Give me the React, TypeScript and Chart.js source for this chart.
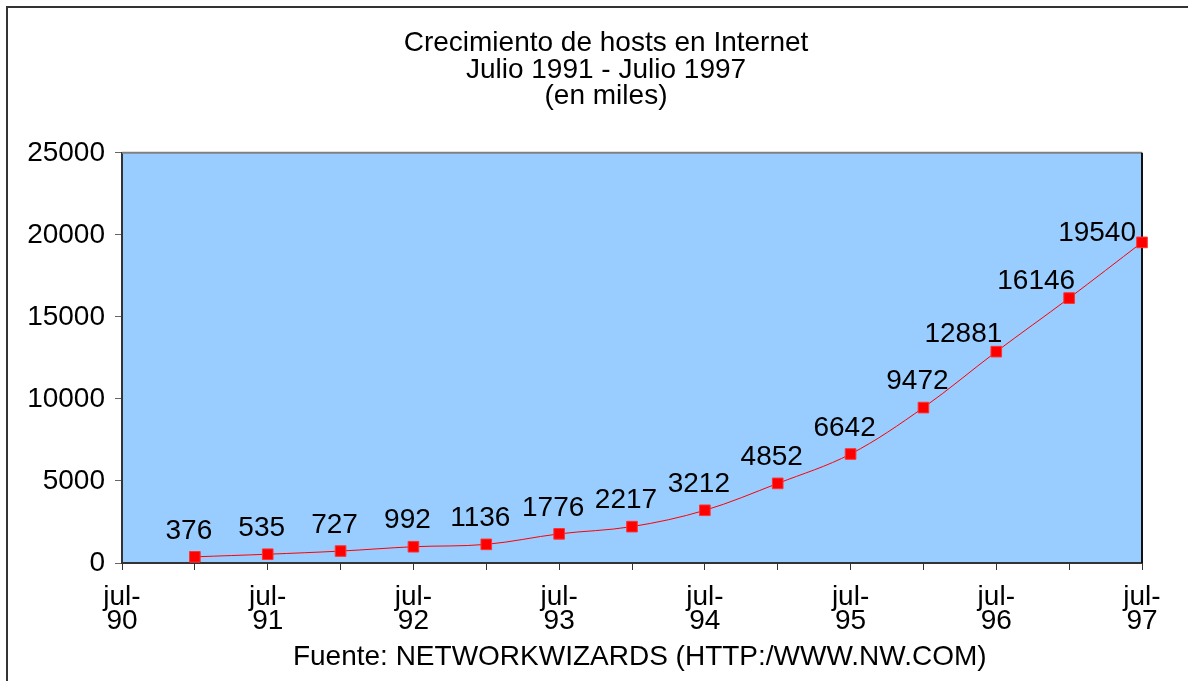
import React, { useEffect, useRef } from "react";
import { Chart, registerables } from "chart.js";

Chart.register(...registerables);

const periods = [
  "jul-90", "ene-91", "jul-91", "ene-92", "jul-92", "ene-93", "jul-93", "ene-94",
  "jul-94", "ene-95", "jul-95", "ene-96", "jul-96", "ene-97", "jul-97",
];
const hosts: (number | null)[] = [
  null, 376, 535, 727, 992, 1136, 1776, 2217, 3212, 4852, 6642, 9472, 12881, 16146, 19540,
];
const titleLines = ["Crecimiento de hosts en Internet", "Julio 1991 - Julio 1997", "(en miles)"];
const sourceText = "Fuente: NETWORKWIZARDS (HTTP:/WWW.NW.COM)";
const yMin = 0;
const yMax = 25000;
const yStep = 5000;

const FONT = "'Liberation Sans', Arial, sans-serif";

const framePlugin = {
  id: "framePlugin",
  beforeDraw(chart: any) {
    const { ctx, chartArea } = chart;
    ctx.save();
    ctx.strokeStyle = "#333333";
    ctx.lineWidth = 2;
    ctx.beginPath();
    ctx.moveTo(7, chart.height + 5);
    ctx.lineTo(7, 7);
    ctx.lineTo(chart.width + 5, 7);
    ctx.stroke();
    ctx.fillStyle = "#99CCFF";
    ctx.fillRect(chartArea.left, chartArea.top, chartArea.right - chartArea.left, chartArea.bottom - chartArea.top);
    ctx.restore();
  },
  beforeDatasetsDraw(chart: any) {
    const { ctx, chartArea } = chart;
    ctx.save();
    ctx.lineWidth = 2;
    ctx.strokeStyle = "#808080";
    ctx.beginPath();
    ctx.moveTo(chartArea.left, chartArea.top);
    ctx.lineTo(chartArea.right, chartArea.top);
    ctx.stroke();
    ctx.strokeStyle = "#111111";
    ctx.beginPath();
    ctx.moveTo(chartArea.right, chartArea.top);
    ctx.lineTo(chartArea.right, chartArea.bottom);
    ctx.stroke();
    ctx.restore();
  },
};

const labelPlugin = {
  id: "valueLabels",
  afterDatasetsDraw(chart: any) {
    const { ctx, chartArea } = chart;
    const meta = chart.getDatasetMeta(0);
    ctx.save();
    ctx.font = `28px ${FONT}`;
    ctx.fillStyle = "#000000";
    ctx.textBaseline = "middle";
    ctx.textAlign = "center";
    meta.data.forEach((pt: any, i: number) => {
      const v = hosts[i];
      if (v === null || v === undefined) return;
      const text = String(v);
      const w = ctx.measureText(text).width;
      const prev = i > 0 && hosts[i - 1] !== null ? meta.data[i - 1] : null;
      const slope = prev ? (prev.y - pt.y) / (pt.x - prev.x) : 0;
      let x: number;
      let y: number;
      if (slope > 0.7) {
        // steep part: label sits up-left of the point
        x = pt.x + 6 - w / 2;
        y = pt.y - 17;
      } else {
        x = pt.x - 6;
        y = pt.y - 26;
      }
      if (x + w / 2 > chartArea.right - 6) {
        x = chartArea.right - 6 - w / 2;
        y = pt.y - 9;
      }
      ctx.fillText(text, x, y);
    });
    ctx.restore();
  },
};

export default function App() {
  const canvasRef = useRef<HTMLCanvasElement | null>(null);

  useEffect(() => {
    if (!canvasRef.current) return;
    const chart = new Chart(canvasRef.current, {
      type: "line",
      data: {
        labels: periods,
        datasets: [
          {
            data: hosts,
            borderColor: "#FF0000",
            borderWidth: 1,
            backgroundColor: "#FF0000",
            pointStyle: "rect",
            pointRadius: 7.5,
            pointBorderWidth: 1,
            pointBorderColor: "#FF3333",
            pointBackgroundColor: "#FF0000",
            tension: 0.35,
            spanGaps: true,
            fill: false,
            yAxisID: "y",
          },
        ],
      },
      options: {
        responsive: false,
        animation: false,
        layout: { padding: { left: 28, right: 4, top: 0, bottom: 0 } },
        plugins: {
          legend: { display: false },
          tooltip: { enabled: false },
          title: {
            display: true,
            text: titleLines,
            color: "#000000",
            font: { family: FONT, size: 28, weight: "normal", lineHeight: 0.95 },
            padding: { top: 30, bottom: 43 },
          },
        },
        scales: {
          x: {
            type: "category",
            offset: false,
            grid: {
              drawOnChartArea: false,
              drawTicks: true,
              tickLength: 7,
              color: "#333333",
              offset: false,
            },
            border: { color: "#333333", width: 2 },
            ticks: {
              autoSkip: false,
              maxRotation: 0,
              minRotation: 0,
              padding: 15,
              color: "#000000",
              font: { family: FONT, size: 28, lineHeight: 0.86 },
              callback: (_v: any, i: number) => {
                if (i % 2 !== 0) return "";
                const [m, y] = periods[i].split("-");
                return [m + "-", y];
              },
            },
            title: {
              display: true,
              text: "  " + sourceText,
              color: "#000000",
              font: { family: FONT, size: 28, lineHeight: 1.2 },
              padding: { top: 7, bottom: 7 },
            },
            afterFit: (s: any) => {
              s.height = 118;
            },
          },
          y: {
            min: yMin,
            max: yMax,
            grid: {
              drawOnChartArea: false,
              drawTicks: true,
              tickLength: 7,
              color: "#666666",
            },
            border: { color: "#333333", width: 2 },
            ticks: {
              stepSize: yStep,
              padding: 10,
              color: "#000000",
              font: { family: FONT, size: 28 },
              callback: (v: any) => String(v),
            },
            afterFit: (s: any) => {
              s.width = 94;
            },
          },
          spacer: {
            type: "linear",
            position: "right",
            display: true,
            grid: { display: false, drawTicks: false },
            border: { display: false },
            ticks: { display: false },
            afterFit: (s: any) => {
              s.width = 42;
            },
          },
        },
      },
      plugins: [framePlugin, labelPlugin],
    });
    return () => chart.destroy();
  }, []);

  return (
    <div style={{ position: "fixed", left: 0, top: 0, width: 1188, height: 681, background: "#ffffff" }}>
      <canvas ref={canvasRef} width={1188} height={681} style={{ width: "1188px", height: "681px", display: "block" }} />
    </div>
  );
}
